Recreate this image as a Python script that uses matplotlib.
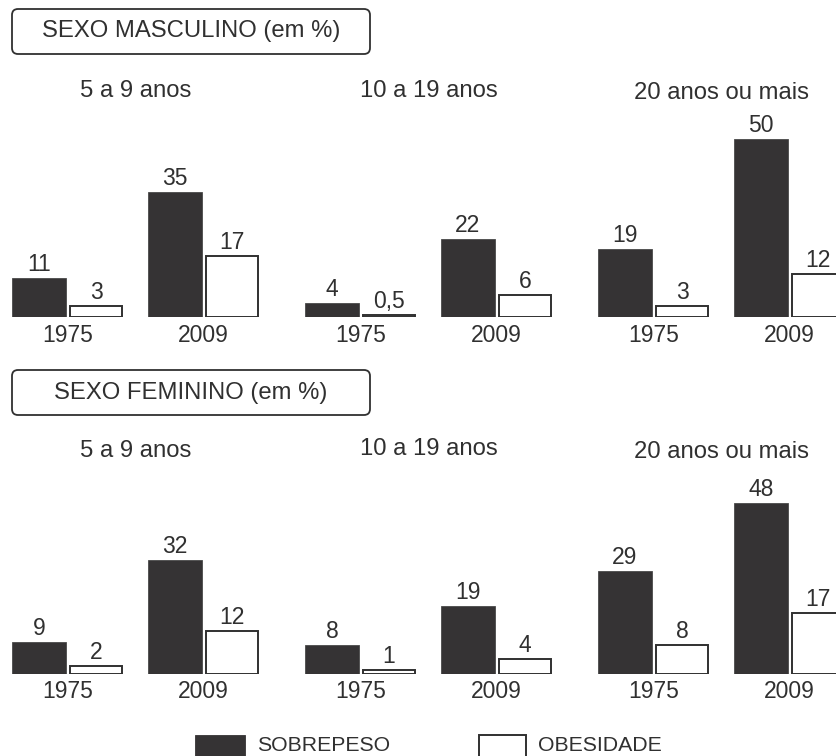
"""
Sobrepeso e obesidade por sexo e faixa etária, 1975 x 2009 (em %).
"""
import numpy as np
import matplotlib
matplotlib.use("Agg")
import matplotlib.pyplot as plt
from matplotlib.patches import FancyBboxPatch, Rectangle

# ── Dados ─────────────────────────────────────────────────────────────────────
age_groups = ["5 a 9 anos", "10 a 19 anos", "20 anos ou mais"]
years = ["1975", "2009"]

# ordem: (5-9, 1975), (5-9, 2009), (10-19, 1975), (10-19, 2009), (20+, 1975), (20+, 2009)
masc_sobrepeso = [11, 35, 4, 22, 19, 50]
masc_obesidade = [3, 17, 0.5, 6, 3, 12]
fem_sobrepeso = [9, 32, 8, 19, 29, 48]
fem_obesidade = [2, 12, 1, 4, 8, 17]

legend_labels = ["SOBREPESO", "OBESIDADE"]

# ── Layout (pixels) ───────────────────────────────────────────────────────────
W, H = 836, 756
TXT = "#303030"
DARK = "#353334"
FS = 16.5          # valores e anos
FS_HEAD = 17.2     # títulos e faixas etárias
FS_LEG = 15.3

BAR_W = 54
PAIR = 57          # distância sobrepeso -> obesidade
YEAR_STEP = 136    # 1975 -> 2009
GROUP_STEP = 293   # faixa etária -> faixa etária
X0 = 39            # centro da primeira barra
PX_PER_UNIT = 3.55
PANEL_H = 240
PT = 0.72          # px -> pontos (dpi 100)

plt.rcParams["font.family"] = ["Liberation Sans", "DejaVu Sans"]


def fx(px):
    return px / W


def fy(py):
    return 1 - py / H


def fmt(v):
    return f"{v:g}".replace(".", ",")


fig = plt.figure(figsize=(W / 100, H / 100), dpi=100)

sob_x = np.array([X0 + g * GROUP_STEP + k * YEAR_STEP
                  for g in range(len(age_groups)) for k in range(len(years))])
obe_x = sob_x + PAIR

panels = [
    dict(title="SEXO MASCULINO (em %)", sob=masc_sobrepeso, obe=masc_obesidade,
         base=316.7, box_top=9, age_base=[97, 97, 99]),
    dict(title="SEXO FEMININO (em %)", sob=fem_sobrepeso, obe=fem_obesidade,
         base=673.5, box_top=370, age_base=[457, 455, 458]),
]

for p in panels:
    ax = fig.add_axes([0, fy(p["base"]), 1, PANEL_H / H])
    ax.set_xlim(0, W)
    ax.set_ylim(0, PANEL_H / PX_PER_UNIT)
    ax.set_axis_off()

    ax.bar(sob_x, p["sob"], width=BAR_W, color=DARK, edgecolor="#4a4a4a",
           linewidth=0.6)
    ax.bar(obe_x, p["obe"], width=BAR_W - 1.5, color="white", edgecolor=TXT,
           linewidth=1.4)

    # valores acima das barras
    for xs, vals in ((sob_x, p["sob"]), (obe_x, p["obe"])):
        for x, v in zip(xs, vals):
            ax.annotate(fmt(v), (x, v), xytext=(0, 7 * PT),
                        textcoords="offset points", ha="center", va="baseline",
                        fontsize=FS, color=TXT, annotation_clip=False)

    # anos abaixo de cada par
    for i, x in enumerate(sob_x):
        ax.annotate(years[i % 2], (x + PAIR / 2, 0), xytext=(0, -25 * PT),
                    textcoords="offset points", ha="center", va="baseline",
                    fontsize=FS, color=TXT, annotation_clip=False)

    # faixas etárias
    for g, name in enumerate(age_groups):
        cx = sob_x[2 * g] + (YEAR_STEP + PAIR) / 2
        fig.text(fx(cx), fy(p["age_base"][g]), name, ha="center", va="baseline",
                 fontsize=FS_HEAD, color=TXT)

    # caixa de título
    box = FancyBboxPatch((12 / 100, (H - p["box_top"] - 45) / 100), 358 / 100, 45 / 100,
                         boxstyle="round,pad=0,rounding_size=0.06",
                         transform=fig.dpi_scale_trans, fc="white", ec=TXT, lw=1.3)
    fig.add_artist(box)
    fig.text(fx(191), fy(p["box_top"] + 22.5), p["title"], ha="center", va="center",
             fontsize=FS_HEAD, color=TXT)

# ── Legenda ───────────────────────────────────────────────────────────────────
fig.add_artist(Rectangle((fx(195), fy(758)), 50 / W, 23 / H, transform=fig.transFigure,
                         fc=DARK, ec=DARK, lw=0.6))
fig.add_artist(Rectangle((fx(479), fy(758)), 47 / W, 23 / H, transform=fig.transFigure,
                         fc="white", ec=TXT, lw=1.4))
fig.text(fx(257), fy(751), legend_labels[0], ha="left", va="baseline",
         fontsize=FS_LEG, color=TXT)
fig.text(fx(538), fy(751), legend_labels[1], ha="left", va="baseline",
         fontsize=FS_LEG, color=TXT)

fig.savefig("out.png", dpi=100, facecolor="white")
